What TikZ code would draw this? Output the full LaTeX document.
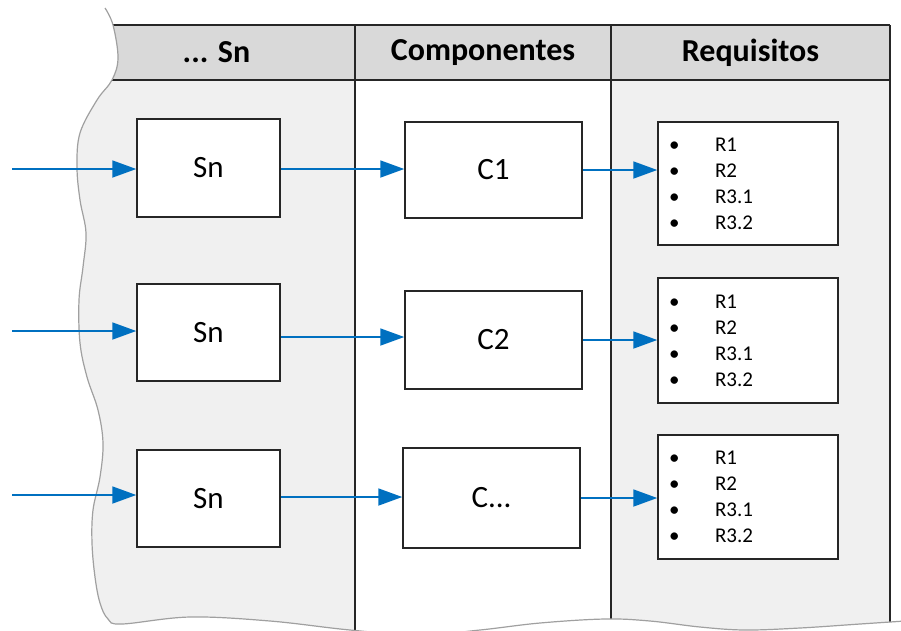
\documentclass[tikz,border=0pt]{standalone}
\usepackage{fontspec}
\setmainfont{Carlito}
\usetikzlibrary{arrows.meta}

\definecolor{hdrfill}{HTML}{D9D9D9}
\definecolor{lanefill}{HTML}{F0F0F0}
\definecolor{tearline}{HTML}{A0A0A0}
\definecolor{flow}{HTML}{0070C0}
\definecolor{ink}{HTML}{262626}

% torn left and bottom edge of the lane panel
\def\tornedge{plot[smooth, tension=0.6] coordinates {
  (105,8) (113,25) (118,58) (112,80) (97,100) (80,133) (77,167) (80,200)
  (86,233) (83,267) (79,300) (80,343) (87,377) (98,410) (103,443) (100,477)
  (93,510) (92,543) (95,577) (100,603) (108,619) (122,624) (190,617)
  (270,621) (350,630) (420,635) (480,630) (540,623) (605,619) (650,621)
  (700,627) (745,630) (800,628) (860,624) (905,621)}}

\newcommand\reqitem[1]{\makebox[46pt][l]{\textbullet}#1}

\begin{document}
\begin{tikzpicture}[x=1pt,y=-1pt,
  box/.style={draw=ink, line width=1.5pt, fill=white, inner sep=0pt,
    font=\fontsize{31}{33}\selectfont},
  reqbox/.style={draw=ink, line width=1.5pt, fill=white, minimum width=180,
    inner xsep=11pt, text width=158pt, align=left,
    font=\fontsize{21}{26}\selectfont},
  arr/.style={draw=flow, line width=1.8pt, -{Triangle[length=24pt,width=17pt]}},
  rule/.style={draw=ink, line width=1.5pt},
  hdrtext/.style={font=\bfseries\fontsize{32}{34}\selectfont}
]
\useasboundingbox (0,0) rectangle (901,630);

% lanes and header band, cut off by the torn edge
\begin{scope}
  \clip \tornedge -- (910,640) -- (910,-10) -- (105,-10) -- cycle;
  \fill[lanefill] (0,80) rectangle (355,700);
  \fill[lanefill] (611,80) rectangle (890,700);
  \fill[hdrfill] (0,25) rectangle (890,80);
  \draw[rule] (0,25) -- (890,25);
  \draw[rule] (0,80) -- (890,80);
  \draw[rule] (355,25) -- (355,700);
  \draw[rule] (611,25) -- (611,700);
  \draw[rule] (890,25) -- (890,700);
\end{scope}
\draw[tearline, line width=1.2pt] \tornedge;

% column headings
\node[hdrtext] (h1) at (216.5,52.5) {... Sn};
\node[hdrtext] (h2) at (483,52.5) {Componentes};
\node[hdrtext] (h3) at (750.5,52.5) {Requisitos};

% stages
\node[box, minimum width=143, minimum height=98] (sn1) at (208.5,168) {Sn};
\node[box, minimum width=143, minimum height=97] (sn2) at (208.5,332.5) {Sn};
\node[box, minimum width=143, minimum height=97] (sn3) at (208.5,498.5) {Sn};

% components
\node[box, minimum width=177, minimum height=96] (c1) at (493.5,170) {C1};
\node[box, minimum width=177, minimum height=98] (c2) at (493.5,340) {C2};
\node[box, minimum width=177, minimum height=100] (c3) at (491.5,498) {C...};

% requirement lists
\node[reqbox, minimum height=123] (r1) at (748,183.5)
  {\reqitem{R1}\\\reqitem{R2}\\\reqitem{R3.1}\\\reqitem{R3.2}};
\node[reqbox, minimum height=125] (r2) at (748,340.5)
  {\reqitem{R1}\\\reqitem{R2}\\\reqitem{R3.1}\\\reqitem{R3.2}};
\node[reqbox, minimum height=124] (r3) at (748,497)
  {\reqitem{R1}\\\reqitem{R2}\\\reqitem{R3.1}\\\reqitem{R3.2}};

% incoming flows
\coordinate (in1) at (12,169);
\coordinate (in2) at (12,331);
\coordinate (in3) at (12,495);
\draw[arr] (in1) -- (in1 -| sn1.west);
\draw[arr] (in2) -- (in2 -| sn2.west);
\draw[arr] (in3) -- (in3 -| sn3.west);

% stage to component
\draw[arr] ([yshift=-1pt]sn1.east) -- ([yshift=-1pt]sn1.east -| c1.west);
\draw[arr] ([yshift=-4.5pt]sn2.east) -- ([yshift=-4.5pt]sn2.east -| c2.west);
\draw[arr] ([yshift=1.5pt]sn3.east) -- ([yshift=1.5pt]sn3.east -| c3.west);

% component to requirements
\draw[arr] (c1.east) -- (c1.east -| r1.west);
\draw[arr] (c2.east) -- (c2.east -| r2.west);
\draw[arr] (c3.east) -- (c3.east -| r3.west);
\end{tikzpicture}
\end{document}
